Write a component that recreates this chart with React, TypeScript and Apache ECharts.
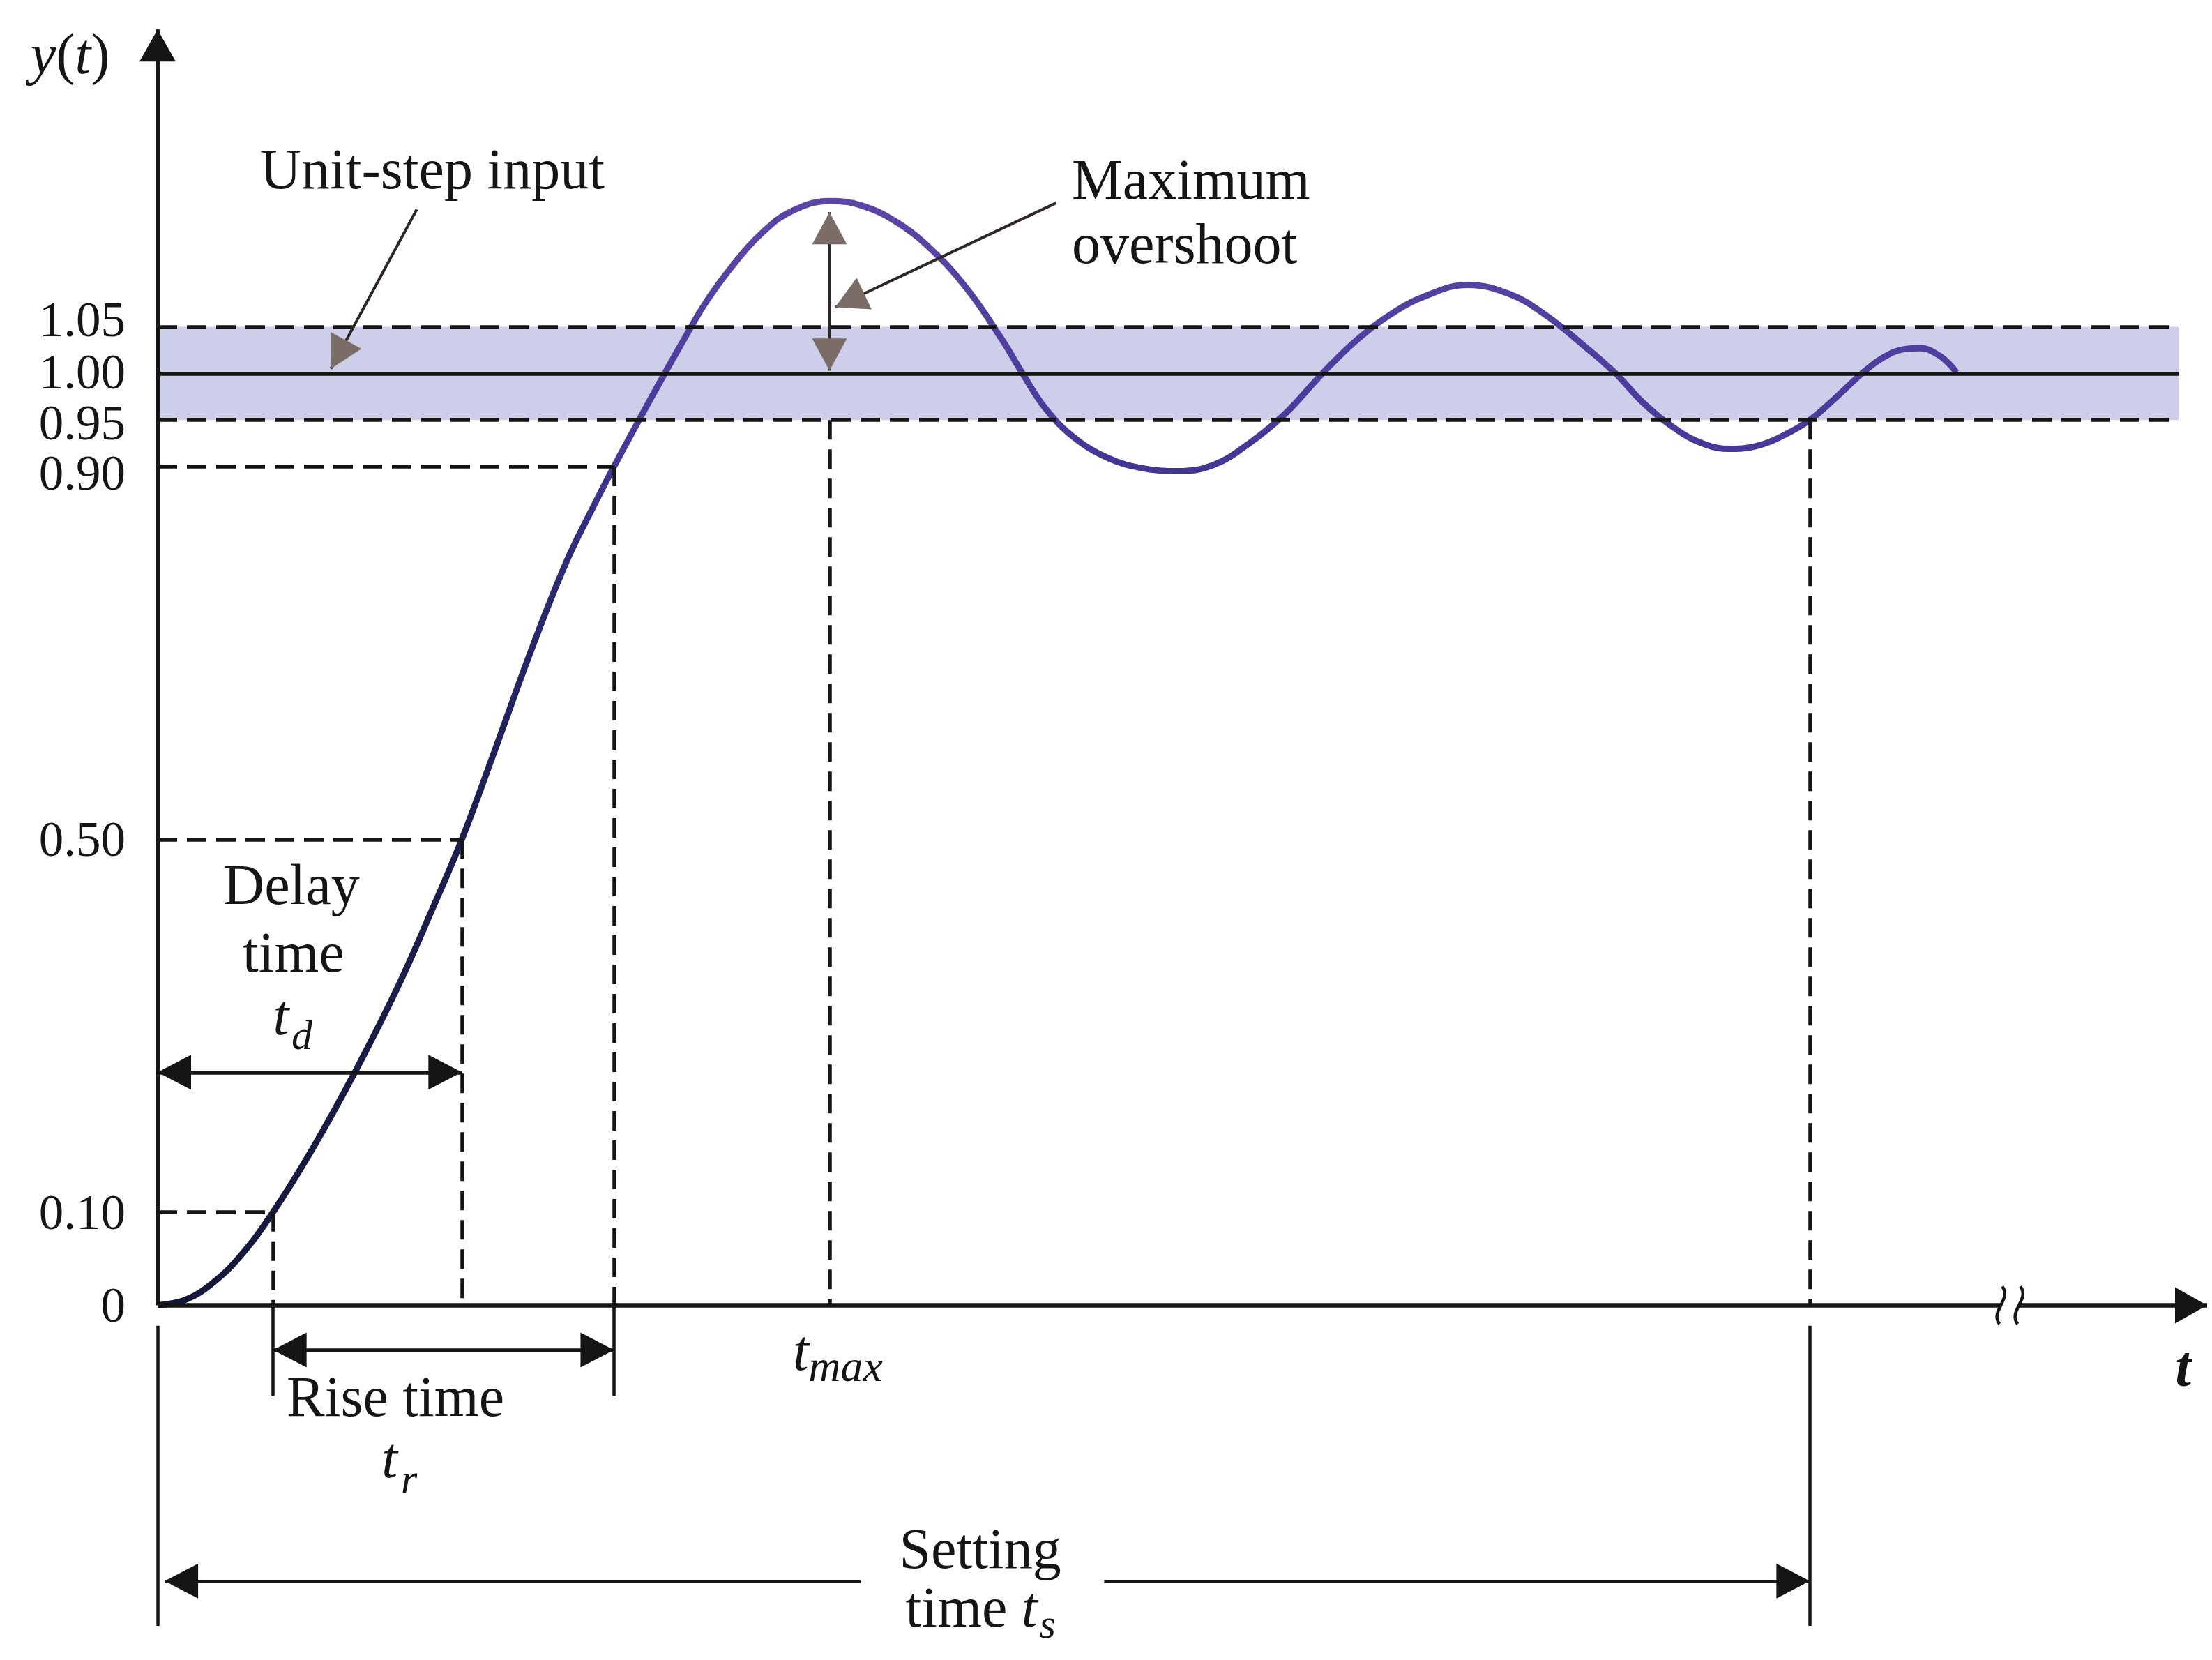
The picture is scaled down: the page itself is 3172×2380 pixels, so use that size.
import React, { useEffect, useRef } from "react";
import * as echarts from "echarts";

const WIDTH = 3172;
const HEIGHT = 2380;

// Step response y(t) (time in arbitrary units)
const T_VALUES = [
  0, 0.2, 0.4, 0.6, 0.82, 1.1, 1.4, 1.7, 1.95, 2.16, 2.4, 2.65, 2.9, 3.1, 3.24, 3.4, 3.56, 3.72, 3.9, 4.1, 4.3, 4.5, 4.77,
  5.0, 5.25, 5.5, 5.75, 6.0, 6.14, 6.3, 6.5, 6.75, 7.0, 7.24, 7.5, 7.75, 8.0, 8.27,
  8.5, 8.75, 9.0, 9.3, 9.6, 9.85, 10.1, 10.35,
  10.55, 10.8, 11.0, 11.15, 11.35, 11.55, 11.73, 11.9, 12.1,
  12.25, 12.4, 12.52, 12.64, 12.72, 12.77,
];
const Y_VALUES = [
  0, 0.006, 0.025, 0.055, 0.1, 0.168, 0.25, 0.34, 0.425, 0.5, 0.598, 0.702, 0.797, 0.859, 0.9, 0.945, 0.989, 1.032, 1.078, 1.119, 1.152, 1.174, 1.185,
  1.18, 1.162, 1.132, 1.09, 1.035, 1.0, 0.963, 0.932, 0.909, 0.898, 0.895, 0.902, 0.925, 0.956, 1.0,
  1.034, 1.063, 1.083, 1.095, 1.085, 1.063, 1.033, 1.0,
  0.968, 0.938, 0.923, 0.919, 0.922, 0.934, 0.95, 0.972, 1.0,
  1.017, 1.026, 1.027, 1.02, 1.01, 1.001,
];

// Tick labels on the y axis
const Y_TICKS = [0, 0.1, 0.5, 0.9, 0.95, 1.0, 1.05];

// Characteristic levels and times
const STEP_LEVEL = 1.0;
const BAND_LOW = 0.95;
const BAND_HIGH = 1.05;
const LEVEL_10 = 0.1;
const LEVEL_50 = 0.5;
const LEVEL_90 = 0.9;
const T_10 = 0.82;
const T_DELAY = 2.16;
const T_90 = 3.24;
const T_MAX = 4.77;
const PEAK = 1.185;
const T_SETTLE = 11.73;
const T_BAND_END = 14.35;
const T_AXIS_END = 14.55;
const Y_AXIS_END = 1.369;
const T_BREAK = 13.15;

// rows used by the dimension arrows
const DELAY_ROW = 0.25;
const RISE_ROW = -0.048;
const SETTLE_ROW = -0.296;
const RISE_EXT = -0.097;
const BRACKET_TOP = -0.022;
const BRACKET_BOTTOM = -0.344;
const SETTLE_GAP = [4.99, 6.72];
const UNIT_POINTER: [number, number][] = [[1.84, 1.176], [1.23, 1.005]];
const OVERSHOOT_POINTER: [number, number][] = [[6.38, 1.183], [4.81, 1.071]];

const FONT = "'Liberation Serif', 'Times New Roman', serif";
const INK = "#151515";
const HEAD_GRAY = "#7a6d67";
const POINTER_INK = "#2e2725";
const BAND_COLOR = "#cdcee9";
const DASH = [28, 14];
const HEAD = "path://M10,20L20,40L0,40Z M10,0L10,0.01";
const LABEL_SIZE = 71;

type P = [number, number];
type SegOpt = { w?: number; color?: string; dash?: any; headA?: boolean; headB?: boolean; head?: [number, number] };

function seg(a: P, b: P, o: SegOpt = {}) {
  const hs = o.head || [50, 48];
  const size = [hs[0], hs[1] * 2];
  return [
    {
      coord: a,
      symbol: o.headA ? HEAD : "none",
      symbolSize: size,
      lineStyle: { color: o.color || INK, width: o.w == null ? 5.5 : o.w, type: o.dash || "solid", opacity: 1 },
    },
    { coord: b, symbol: o.headB ? HEAD : "none", symbolSize: size },
  ];
}

// gray arrow head only (tiny segment ending at the tip)
function grayHead(from: P, tip: P) {
  const k = 0.04;
  const a: P = [tip[0] + (from[0] - tip[0]) * k, tip[1] + (from[1] - tip[1]) * k];
  return seg(a, tip, { color: HEAD_GRAY, w: 1, headB: true, head: [50, 46] });
}

export default function App() {
  const ref = useRef<HTMLDivElement>(null);

  useEffect(() => {
    const el = ref.current;
    if (!el) return;
    const chart = echarts.init(el, null, { renderer: "svg", width: WIDTH, height: HEIGHT });

    const tickSet = new Set(Y_TICKS.map((v) => Math.round(v * 100)));
    const curve = T_VALUES.map((t, i) => [t, Y_VALUES[i]]);

    // small vertical nudges of the crowded tick labels, as in the reference
    const nudge: Record<number, string> = { 105: "up11", 100: "up2", 95: "dn4", 90: "dn9" };
    const labelStyle = (pad: number[]) => ({ fontSize: LABEL_SIZE, fontFamily: FONT, color: INK, padding: pad });

    const blackLines = [
      // axes
      seg([0, 0], [0, Y_AXIS_END], { w: 6.5, headB: true, head: [52, 46] }),
      seg([0, 0], [T_AXIS_END, 0], { w: 6.5, headB: true, head: [52, 46] }),
      // reference levels
      seg([0, BAND_HIGH], [T_BAND_END, BAND_HIGH], { dash: DASH }),
      seg([0, BAND_LOW], [T_BAND_END, BAND_LOW], { dash: DASH }),
      seg([0, STEP_LEVEL], [T_BAND_END, STEP_LEVEL], { w: 5.5 }),
      seg([0, LEVEL_10], [T_10, LEVEL_10], { dash: DASH }),
      seg([T_10, LEVEL_10], [T_10, 0], { dash: DASH }),
      seg([0, LEVEL_50], [T_DELAY, LEVEL_50], { dash: DASH }),
      seg([T_DELAY, LEVEL_50], [T_DELAY, 0], { dash: DASH }),
      seg([0, LEVEL_90], [T_90, LEVEL_90], { dash: DASH }),
      seg([T_90, LEVEL_90], [T_90, 0], { dash: DASH }),
      seg([T_MAX, BAND_LOW], [T_MAX, 0], { dash: DASH }),
      seg([T_SETTLE, BAND_LOW], [T_SETTLE, 0], { dash: DASH }),
      // extension lines below the axis
      seg([T_10, 0], [T_10, RISE_EXT], { w: 4.5 }),
      seg([T_90, 0], [T_90, RISE_EXT], { w: 4.5 }),
      seg([0, BRACKET_TOP], [0, BRACKET_BOTTOM], { w: 4.5 }),
      seg([T_SETTLE, BRACKET_TOP], [T_SETTLE, BRACKET_BOTTOM], { w: 4.5 }),
      // dimension arrows
      seg([0, DELAY_ROW], [T_DELAY, DELAY_ROW], { headA: true, headB: true }),
      seg([T_10, RISE_ROW], [T_90, RISE_ROW], { headA: true, headB: true }),
      seg([0.05, SETTLE_ROW], [SETTLE_GAP[0], SETTLE_ROW], { w: 5, headA: true }),
      seg([SETTLE_GAP[1], SETTLE_ROW], [T_SETTLE, SETTLE_ROW], { w: 5, headB: true }),
    ];

    const overshootTop: P = [T_MAX, PEAK - 0.012];
    const overshootBottom: P = [T_MAX, STEP_LEVEL + 0.003];
    const pointerLines = [
      seg(overshootTop, overshootBottom, { w: 4, color: POINTER_INK }),
      grayHead(overshootBottom, overshootTop),
      grayHead(overshootTop, overshootBottom),
      seg(UNIT_POINTER[0], UNIT_POINTER[1], { w: 4, color: POINTER_INK }),
      grayHead(UNIT_POINTER[0], UNIT_POINTER[1]),
      seg(OVERSHOOT_POINTER[0], OVERSHOOT_POINTER[1], { w: 4, color: POINTER_INK }),
      grayHead(OVERSHOOT_POINTER[0], OVERSHOOT_POINTER[1]),
    ];

    const markLineBase = {
      silent: true,
      symbol: ["none", "none"],
      label: { show: false },
      emphasis: { disabled: true },
      animation: false,
    };

    const option: any = {
      animation: false,
      backgroundColor: "#ffffff",
      grid: { left: 226, right: 7, top: 41, bottom: 41, containLabel: false },
      xAxis: {
        type: "value",
        min: 0,
        max: T_AXIS_END,
        axisLine: { show: false },
        axisTick: { show: false },
        axisLabel: { show: false },
        splitLine: { show: false },
      },
      yAxis: {
        type: "value",
        min: -0.35,
        max: 1.37,
        interval: 0.05,
        axisLine: { show: false },
        axisTick: { show: false },
        splitLine: { show: false },
        axisLabel: {
          margin: 46,
          fontSize: LABEL_SIZE,
          fontFamily: FONT,
          color: INK,
          rich: {
            n: labelStyle([0, 0, 0, 0]),
            up11: labelStyle([0, 0, 22, 0]),
            up2: labelStyle([0, 0, 4, 0]),
            dn4: labelStyle([8, 0, 0, 0]),
            dn9: labelStyle([18, 0, 0, 0]),
          },
          formatter: (v: number) => {
            const k = Math.round(v * 100);
            if (!tickSet.has(k)) return "";
            const s = k === 0 ? "0" : (k / 100).toFixed(2);
            return "{" + (nudge[k] || "n") + "|" + s + "}";
          },
        },
      },
      series: [
        {
          type: "line",
          z: 1,
          data: [],
          silent: true,
          clip: false,
          markArea: {
            silent: true,
            itemStyle: { color: BAND_COLOR },
            data: [[{ coord: [0, BAND_LOW] }, { coord: [T_BAND_END, BAND_HIGH] }]],
          },
        },
        {
          type: "line",
          z: 2,
          data: [],
          silent: true,
          clip: false,
          markLine: { ...markLineBase, data: blackLines },
        },
        {
          type: "line",
          z: 3,
          data: curve,
          smooth: 0.4,
          showSymbol: false,
          silent: true,
          clip: false,
          lineStyle: {
            width: 9,
            color: new echarts.graphic.LinearGradient(0, 0, 0, 1, [
              { offset: 0, color: "#5b46a7" },
              { offset: 0.22, color: "#46399a" },
              { offset: 0.34, color: "#2a2a70" },
              { offset: 0.55, color: "#1d1f52" },
              { offset: 1, color: "#15173a" },
            ]),
          },
        },
        {
          type: "line",
          z: 4,
          data: [],
          silent: true,
          clip: false,
          markLine: { ...markLineBase, data: pointerLines },
        },
      ],
    };

    chart.setOption(option);

    const px = (t: number, v: number) => chart.convertToPixel({ gridIndex: 0 }, [t, v]) as number[];
    const txt = (s: string, t: number, v: number, size: number, align: string, extra: any = {}) => {
      const [x, y] = px(t, v);
      return {
        type: "text",
        x,
        y,
        z: 100,
        silent: true,
        style: {
          text: s,
          fontFamily: FONT,
          fontSize: size,
          fill: INK,
          align,
          verticalAlign: "middle",
          textAlign: align,
          textVerticalAlign: "middle",
          ...extra,
        },
      };
    };
    const italic = { fontStyle: "italic" };
    const richItalic = { rich: { i: { fontStyle: "italic", fontSize: 82, fontFamily: FONT, fill: INK } } };

    const [bx, by] = px(T_BREAK, 0);
    const wave = (x: number) => ({
      type: "bezierCurve",
      z: 101,
      silent: true,
      shape: { x1: x + 2, y1: by - 27, x2: x - 2, y2: by + 27, cpx1: x + 16, cpy1: by - 8, cpx2: x - 16, cpy2: by + 8 },
      style: { stroke: INK, lineWidth: 4.5, fill: null },
    });

    const graphics: any[] = [
      txt("{i|y}({i|t})", -0.62, 1.343, 82, "center", richItalic),
      txt("Unit-step input", 1.95, 1.219, 82, "center"),
      txt("Maximum", 6.49, 1.208, 82, "left"),
      txt("overshoot", 6.49, 1.139, 82, "left"),
      txt("Delay", 0.95, 0.451, 82, "center"),
      txt("time", 0.965, 0.379, 82, "center"),
      txt("t", 0.876, 0.311, 82, "center", italic),
      txt("d", 0.95, 0.29, 60, "left", italic),
      txt("Rise time", 0.916, -0.098, 82, "left"),
      txt("t", 1.59, -0.164, 82, "left", italic),
      txt("r", 1.728, -0.186, 60, "left", italic),
      txt("t", 4.51, -0.049, 82, "left", italic),
      txt("max", 4.62, -0.065, 64, "left", italic),
      txt("Setting", 5.84, -0.261, 82, "center"),
      txt("time {i|t}", 5.31, -0.324, 82, "left", richItalic),
      txt("s", 6.26, -0.342, 60, "left", italic),
      txt("t", 14.38, -0.066, 82, "center", { fontStyle: "italic", fontWeight: "bold" }),
      {
        type: "rect",
        z: 100,
        silent: true,
        shape: { x: bx - 12, y: by - 9, width: 24, height: 18 },
        style: { fill: "#ffffff" },
      },
      wave(bx - 13),
      wave(bx + 13),
    ];

    chart.setOption({ graphic: graphics });

    return () => chart.dispose();
  }, []);

  return (
    <div
      ref={ref}
      style={{ position: "fixed", left: 0, top: 0, width: WIDTH, height: HEIGHT, background: "#ffffff" }}
    />
  );
}
